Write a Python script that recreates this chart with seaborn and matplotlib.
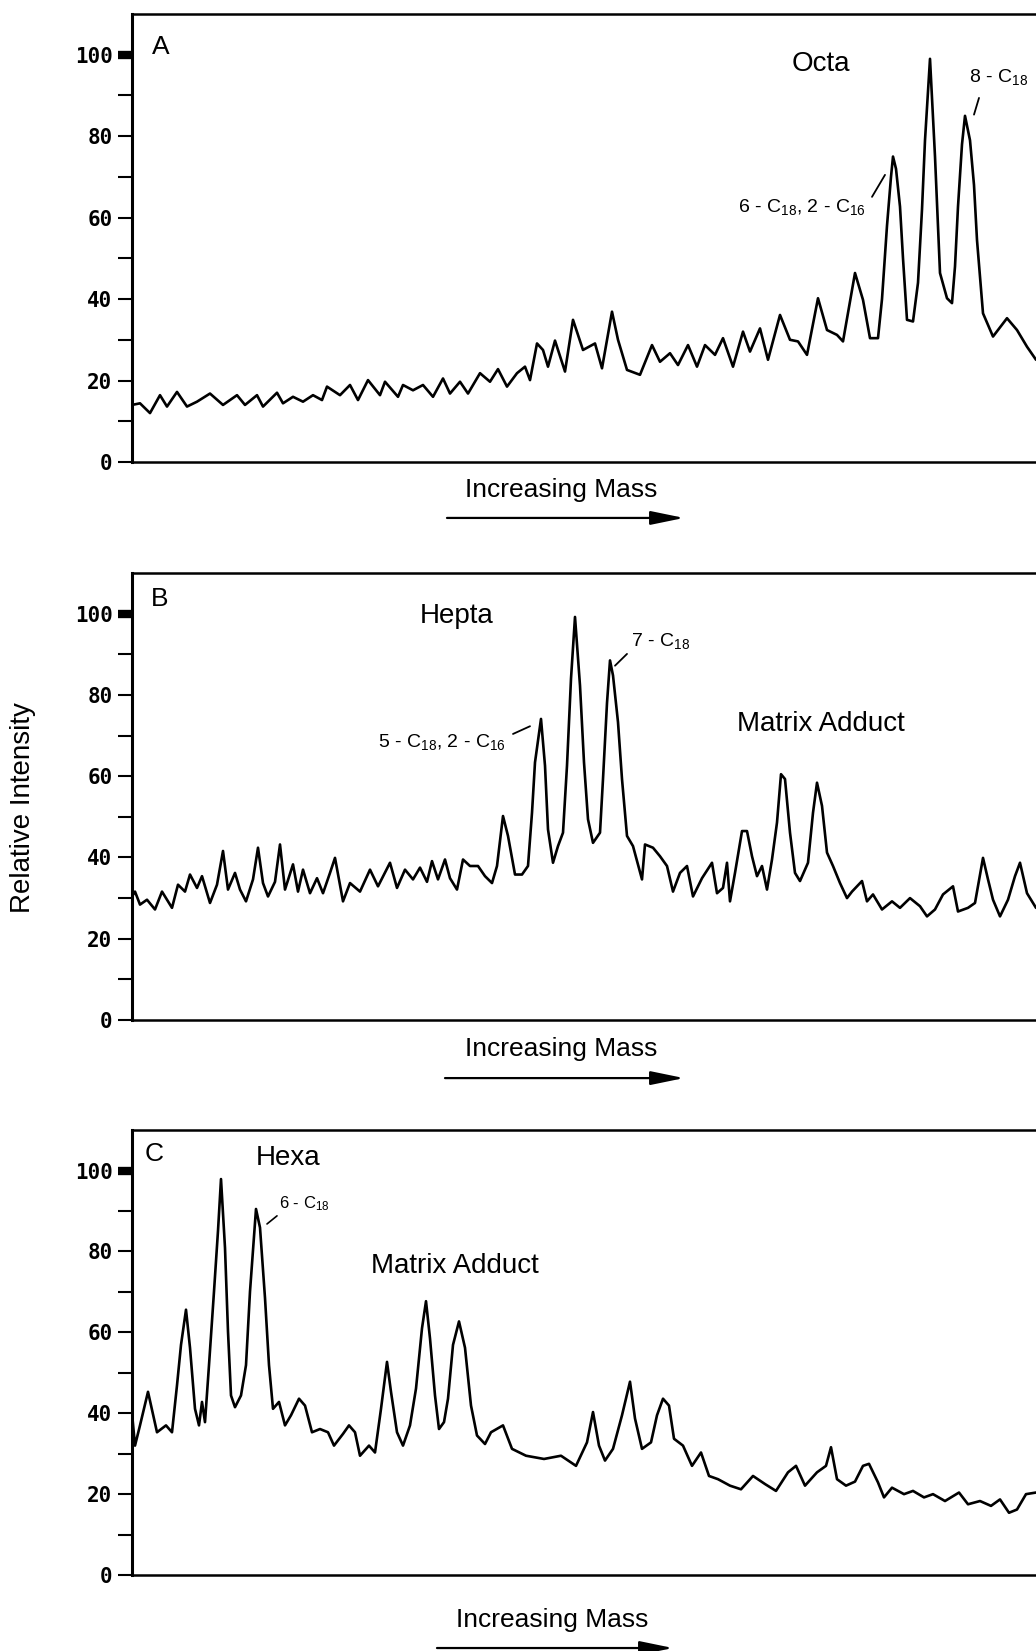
import numpy as np
import matplotlib
matplotlib.use('Agg')
import matplotlib.pyplot as plt
import seaborn as sns

# scan position (arbitrary mass axis) and relative intensity
scan_a = [132, 140, 150, 160, 167, 177, 187, 197, 210, 223, 237, 245, 257, 263, 277, 283, 293, 303, 313, 322,
          327, 340, 350, 358, 368, 380, 385, 398, 403, 413, 423, 433, 443, 450, 460, 468, 480, 490, 498, 507,
          517, 525, 530, 537, 543, 548, 555, 565, 573, 583, 595, 602, 612, 618, 627, 640, 652, 660, 670, 678,
          688, 697, 705, 715, 723, 733, 743, 750, 760, 768, 780, 790, 798, 807, 818, 827, 837, 843, 855, 863,
          870, 878, 882, 887, 891, 893, 896, 900, 903, 907, 913, 918, 922, 925, 930, 935, 940, 947, 952, 955,
          958, 962, 965, 970, 974, 977, 983, 993, 1007, 1017, 1027, 1036]
int_a = [14.0, 14.4, 12.0, 16.4, 13.6, 17.2, 13.6, 14.8, 16.8, 14.0, 16.4, 14.0, 16.4, 13.6, 17.0, 14.4, 16.0, 14.8, 16.4, 15.2,
         18.5, 16.4, 18.9, 15.2, 20.1, 16.4, 19.7, 16.0, 18.9, 17.6, 18.9, 16.0, 20.5, 16.8, 19.7, 16.8, 21.8, 19.7, 22.8, 18.5,
         21.8, 23.4, 20.1, 29.1, 27.5, 23.4, 29.8, 22.2, 34.9, 27.5, 29.1, 23.0, 36.9, 30.0, 22.6, 21.4, 28.7, 24.6, 26.7, 23.8,
         28.7, 23.4, 28.7, 26.3, 30.4, 23.4, 32.0, 27.1, 32.8, 25.1, 36.1, 30.0, 29.6, 26.3, 40.2, 32.4, 31.2, 29.6, 46.4, 39.8,
         30.4, 30.4, 40.0, 58.0, 70.0, 75.0, 72.0, 62.7, 50.0, 34.9, 34.5, 44.0, 62.0, 79.0, 99.0, 75.0, 46.4, 40.2, 39.0, 48.0,
         62.7, 78.0, 85.0, 79.0, 68.0, 54.5, 36.5, 30.8, 35.3, 32.4, 28.3, 25.1]

scan_b = [132, 135, 140, 147, 155, 162, 172, 178, 185, 190, 197, 202, 210, 217, 223, 228, 235, 240, 246, 253,
          258, 263, 268, 275, 280, 285, 293, 298, 303, 310, 317, 323, 330, 335, 343, 350, 360, 370, 378, 390,
          397, 405, 413, 420, 427, 432, 438, 445, 450, 457, 463, 470, 478, 485, 492, 497, 503, 508, 515, 522,
          528, 532, 535, 541, 545, 548, 553, 558, 563, 567, 571, 575, 580, 584, 588, 593, 600, 603, 607, 610,
          613, 618, 622, 627, 633, 642, 645, 653, 660, 667, 673, 680, 687, 693, 702, 712, 717, 723, 727, 730,
          735, 742, 747, 752, 757, 762, 767, 772, 777, 781, 785, 790, 795, 800, 808, 813, 817, 822, 827, 833,
          840, 847, 852, 862, 867, 873, 882, 892, 900, 910, 920, 927, 935, 943, 953, 958, 968, 975, 983, 988,
          993, 1000, 1008, 1015, 1020, 1027, 1036]
int_b = [30.4, 31.6, 28.4, 29.6, 27.2, 31.6, 27.6, 33.3, 31.6, 35.8, 32.5, 35.4, 28.8, 33.3, 41.6, 32.1, 36.2, 32.1, 29.2, 34.6,
         42.4, 33.7, 30.4, 34.0, 43.2, 32.1, 38.3, 31.6, 37.0, 31.2, 34.9, 31.2, 36.2, 39.9, 29.2, 33.7, 31.6, 37.0, 32.9, 38.7,
         32.5, 37.0, 34.6, 37.5, 34.0, 39.1, 34.6, 39.5, 34.9, 32.1, 39.5, 37.9, 37.9, 35.4, 33.7, 37.9, 50.2, 45.3, 35.8, 35.8,
         37.9, 51.0, 63.4, 74.1, 62.6, 46.9, 38.7, 42.8, 46.1, 62.6, 84.0, 99.2, 82.3, 63.4, 49.4, 43.6, 46.1, 59.3, 78.0, 88.5,
         84.8, 73.3, 59.3, 45.3, 42.8, 34.6, 43.2, 42.4, 40.3, 37.9, 31.6, 36.2, 37.9, 30.4, 34.9, 38.7, 31.2, 32.5, 38.7, 29.2,
         36.2, 46.5, 46.5, 40.3, 35.4, 37.9, 32.1, 39.5, 48.6, 60.5, 59.3, 46.1, 36.2, 34.2, 38.7, 51.0, 58.4, 52.7, 41.2, 37.9,
         33.7, 30.0, 31.6, 34.2, 29.2, 30.9, 27.2, 29.2, 27.6, 30.0, 28.0, 25.5, 27.2, 30.9, 32.9, 26.7, 27.6, 28.8, 39.9, 34.6,
         29.6, 25.5, 29.6, 35.4, 38.7, 31.2, 27.6]

scan_c = [132, 135, 140, 148, 157, 166, 172, 177, 181, 186, 190, 195, 199, 202, 205, 209, 214, 218, 221, 225,
          228, 231, 235, 241, 246, 250, 256, 260, 265, 269, 273, 279, 285, 291, 299, 305, 312, 320, 328, 334,
          343, 349, 355, 360, 369, 375, 381, 387, 391, 397, 403, 410, 416, 422, 426, 430, 435, 439, 444, 448,
          453, 459, 465, 471, 477, 485, 491, 503, 512, 526, 544, 561, 576, 587, 593, 599, 605, 613, 622, 630,
          635, 642, 651, 657, 663, 669, 674, 683, 692, 701, 709, 718, 730, 741, 753, 765, 776, 788, 796, 805,
          817, 826, 831, 837, 846, 855, 863, 869, 878, 884, 892, 904, 913, 924, 933, 945, 959, 968, 980, 991,
          1000, 1009, 1017, 1026, 1036]
int_c = [40.0, 32.0, 37.0, 45.3, 35.3, 37.0, 35.3, 46.9, 56.9, 65.6, 56.2, 41.1, 37.0, 42.8, 37.8, 51.9, 70.1, 85.1, 97.9, 80.9,
         60.2, 44.4, 41.5, 44.4, 51.9, 70.1, 90.5, 85.9, 68.5, 51.9, 41.1, 42.8, 37.0, 39.5, 43.6, 41.9, 35.3, 36.1, 35.3, 32.0,
         34.9, 37.0, 35.3, 29.5, 32.0, 30.3, 41.1, 52.7, 45.3, 35.3, 32.0, 37.0, 46.1, 61.0, 67.7, 58.5, 44.4, 36.1, 37.8, 43.6,
         56.9, 62.7, 56.2, 41.9, 34.5, 32.4, 35.3, 37.0, 31.2, 29.5, 28.7, 29.5, 27.0, 32.8, 40.3, 32.0, 28.3, 31.2, 39.5, 47.8,
         38.7, 31.2, 32.8, 39.5, 43.6, 41.9, 33.7, 32.0, 27.0, 30.3, 24.5, 23.7, 22.1, 21.2, 24.5, 22.5, 20.8, 25.4, 27.0, 22.1,
         25.4, 27.0, 31.6, 23.7, 22.1, 23.1, 27.0, 27.5, 22.9, 19.2, 21.6, 20.0, 20.8, 19.2, 20.0, 18.3, 20.4, 17.5, 18.3, 17.1,
         18.7, 15.4, 16.2, 20.0, 20.4]

y_major = [0, 20, 40, 60, 80, 100]
y_minor = [10, 30, 50, 70, 90]

sns.set_style('ticks')
plt.rcParams['font.family'] = ['Liberation Sans', 'DejaVu Sans']
plt.rcParams['mathtext.fontset'] = 'custom'
plt.rcParams['mathtext.rm'] = 'Liberation Sans'
plt.rcParams['mathtext.default'] = 'rm'
plt.rcParams['text.color'] = 'black'
plt.rcParams['ytick.color'] = 'black'
plt.rcParams['axes.edgecolor'] = 'black'

fig = plt.figure(figsize=(10.36, 16.51), dpi=100)
left = 132 / 1036
width = 1 - left
boxes = [(0.7202, 0.2713), (0.3822, 0.2707), (0.0460, 0.2695)]
axes = [fig.add_axes([left, b, width, h]) for b, h in boxes]
traces = [(scan_a, int_a), (scan_b, int_b), (scan_c, int_c)]

for ax, (sx, sy) in zip(axes, traces):
    sns.lineplot(x=sx, y=sy, ax=ax, color='black', linewidth=1.9)
    ax.set_xlim(132, 1036)
    ax.set_ylim(0, 110)
    ax.set_xticks([])
    ax.set_yticks(y_major)
    ax.set_yticks(y_minor, minor=True)
    ax.set_yticklabels([str(v) for v in y_major], fontfamily='DejaVu Sans Mono',
                       fontweight='bold', fontsize=15, color='black')
    ax.tick_params(axis='y', which='both', direction='out', length=10, width=1.5, pad=4, colors='black')
    ax.spines['right'].set_visible(False)
    ax.spines['left'].set_linewidth(2.2)
    ax.spines['top'].set_linewidth(1.8)
    ax.spines['bottom'].set_linewidth(1.8)
    ax.yaxis.get_major_ticks()[-1].tick1line.set_markeredgewidth(6)
    ax.set_xlabel('')
    ax.set_ylabel('')

# x labels with arrows (text y, arrow y in axes fraction; x in scan units)
xlab = [(561, -0.0625, 447, 684, -0.125), (561, -0.065, 445, 684, -0.13), (552, -0.101, 437, 673, -0.164)]
for ax, (tx, ty, x0, x1, ay) in zip(axes, xlab):
    tr = ax.get_xaxis_transform()
    ax.text(tx, ty, 'Increasing Mass', transform=tr, ha='center', va='center', fontsize=19)
    ax.annotate('', xy=(x1, ay), xytext=(x0, ay), xycoords=tr, textcoords=tr, annotation_clip=False,
                arrowprops=dict(arrowstyle='-|>,head_length=1.7,head_width=0.35', color='black',
                                lw=1.6, mutation_scale=12, shrinkA=0, shrinkB=0))

ax_a, ax_b, ax_c = axes
ax_a.text(161, 102, 'A', fontsize=19, ha='center', va='center')
ax_a.text(821, 97.8, 'Octa', fontsize=20, ha='center', va='center')
ax_a.text(999, 94.6, '8 - C$_{18}$', fontsize=14, ha='center', va='center')
ax_a.plot([974, 979], [85.3, 89.4], color='black', lw=1.3)
ax_a.text(866, 62.5, '6 - C$_{18}$, 2 - C$_{16}$', fontsize=14, ha='right', va='center')
ax_a.plot([872, 885], [65.1, 70.5], color='black', lw=1.3)

ax_b.text(160, 103.5, 'B', fontsize=19, ha='center', va='center')
ax_b.text(457, 99.5, 'Hepta', fontsize=20, ha='center', va='center')
ax_b.text(661, 93.3, '7 - C$_{18}$', fontsize=14, ha='center', va='center')
ax_b.plot([615, 627], [87.2, 90.1], color='black', lw=1.3)
ax_b.text(506, 68.5, '5 - C$_{18}$, 2 - C$_{16}$', fontsize=14, ha='right', va='center')
ax_b.plot([513, 530], [70.4, 72.3], color='black', lw=1.3)
ax_b.text(821, 72.8, 'Matrix Adduct', fontsize=20, ha='center', va='center')

ax_c.text(154, 104, 'C', fontsize=19, ha='center', va='center')
ax_c.text(288, 103.2, 'Hexa', fontsize=20, ha='center', va='center')
ax_c.text(279, 91.8, '6 - C$_{18}$', fontsize=12, ha='left', va='center')
ax_c.plot([267, 277], [86.8, 88.8], color='black', lw=1.2)
ax_c.text(455, 76.4, 'Matrix Adduct', fontsize=20, ha='center', va='center')

fig.text(23 / 1036, 1 - 808 / 1651, 'Relative Intensity', rotation=90, ha='center', va='center', fontsize=20)

fig.savefig('out.png', dpi=100)
